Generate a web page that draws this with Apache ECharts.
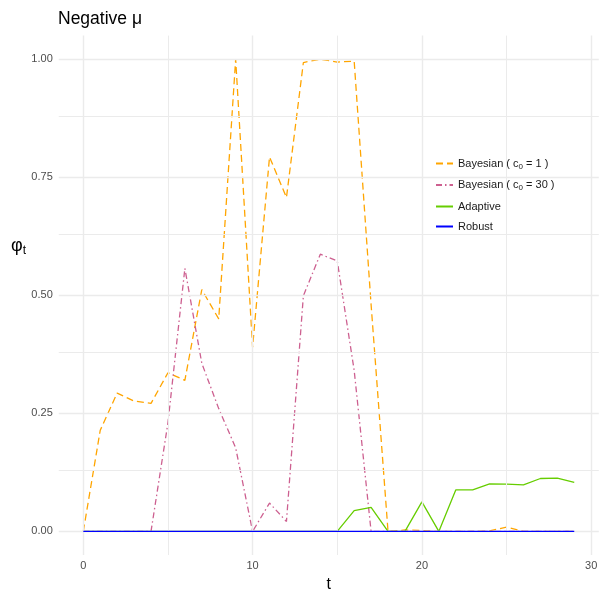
<!DOCTYPE html>
<html>
<head>
<meta charset="utf-8">
<script src="https://cdn.jsdelivr.net/npm/echarts@6/dist/echarts.min.js"></script>
<style>html,body{margin:0;padding:0;background:#fff;}#c{width:604px;height:598px;}</style>
</head>
<body>
<div id="c"></div>
<script>
var tValues = [0,1,2,3,4,5,6,7,8,9,10,11,12,13,14,15,16,17,18,19,20,21,22,23,24,25,26,27,28,29];
var bayes1 = [0,0.214,0.293,0.276,0.271,0.336,0.32,0.512,0.45,1.0,0.39,0.793,0.707,0.993,1.0,0.994,0.996,0.48,0,0.003,0.002,0,0,0,0.001,0.009,0,0,0,0];
var bayes30 = [0,0,0,0,0,0.23,0.557,0.356,0.26,0.177,0,0.06,0.021,0.499,0.587,0.573,0.341,0,0,0,0,0,0,0,0,0,0,0,0,0];
var adaptive = [0,0,0,0,0,0,0,0,0,0,0,0,0,0,0,0,0.044,0.051,0,0,0.0625,0,0.0878,0.0878,0.1005,0.1,0.0985,0.112,0.113,0.104];
var robust = [0,0,0,0,0,0,0,0,0,0,0,0,0,0,0,0,0,0,0,0,0,0,0,0,0,0,0,0,0,0];
var seriesNames = ['Bayesian ( c0 = 1 )','Bayesian ( c0 = 30 )','Adaptive','Robust'];
var legendLabels = ['Bayesian ( c{sub|0} = 1 )','Bayesian ( c{sub|0} = 30 )','Adaptive','Robust'];
var xMajor = [0,10,20,30];
var xMinor = [5,15,25];
var yMajor = [0,0.25,0.5,0.75,1];
var yMinor = [0.125,0.375,0.625,0.875];
var yTickLabels = ['0.00','0.25','0.50','0.75','1.00'];

function pairs(arr){ return tValues.map(function(t,i){ return [t, arr[i]]; }); }

var FONT = "'Liberation Sans', Arial, Helvetica, sans-serif";
var chart = echarts.init(document.getElementById('c'), null, {renderer:'canvas'});

var gridLines = [];
xMajor.forEach(function(v){ gridLines.push({xAxis:v, lineStyle:{width:1.4}}); });
xMinor.forEach(function(v){ gridLines.push({xAxis:v, lineStyle:{width:1.0}}); });
yMajor.forEach(function(v){ gridLines.push({yAxis:v, lineStyle:{width:1.4}}); });
yMinor.forEach(function(v){ gridLines.push({yAxis:v, lineStyle:{width:1.0}}); });

var option = {
  animation:false,
  backgroundColor:'#fff',
  textStyle:{fontFamily:FONT},
  title:[
    {text:'Negative μ', left:53, top:5, textStyle:{fontSize:17.5, fontWeight:'normal', color:'#000', fontFamily:FONT}},
    {text:'{m|φ}{s|t}', left:6, top:231, textStyle:{fontWeight:'normal', rich:{
      m:{fontSize:18, color:'#000', fontFamily:FONT, fontWeight:'normal'},
      s:{fontSize:12, color:'#000', fontFamily:FONT, fontWeight:'normal', padding:[9,0,0,0]}
    }}}
  ],
  grid:{left:58.75, right:5.2, top:35.6, bottom:40.5, containLabel:false},
  legend:{
    orient:'vertical', left:430, top:153, itemGap:9, itemWidth:17, itemHeight:12,
    data:seriesNames,
    itemStyle:{opacity:0, borderWidth:0},
    textStyle:{fontSize:11, color:'#1a1a1a', fontFamily:FONT,
      rich:{sub:{fontSize:8, color:'#1a1a1a', fontFamily:FONT, padding:[6,0,0,0]}}},
    formatter:function(name){ return legendLabels[seriesNames.indexOf(name)]; }
  },
  xAxis:{
    type:'value', min:-1.45, max:30.45,
    name:'t', nameLocation:'middle', nameGap:22,
    nameTextStyle:{fontSize:16, color:'#000', verticalAlign:'top', fontFamily:FONT},
    axisLine:{show:false}, axisTick:{show:false}, splitLine:{show:false},
    axisLabel:{customValues:xMajor, fontSize:11, color:'#4d4d4d', margin:5, fontFamily:FONT}
  },
  yAxis:{
    type:'value', min:-0.05, max:1.05,
    axisLine:{show:false}, axisTick:{show:false}, splitLine:{show:false},
    axisLabel:{customValues:yMajor, fontSize:11, color:'#4d4d4d', margin:6, fontFamily:FONT,
      formatter:function(v){ var i = yMajor.indexOf(v); return i>=0 ? yTickLabels[i] : ''; }}
  },
  series:[
    {type:'line', name:'_grid', data:[], z:0, silent:true,
      markLine:{silent:true, symbol:['none','none'], label:{show:false}, animation:false,
        lineStyle:{color:'#ebebeb', type:'solid'}, emphasis:{disabled:true}, data:gridLines}},
    {type:'line', name:seriesNames[0], data:pairs(bayes1), showSymbol:false, symbol:'none', z:2,
      lineStyle:{color:'#FFA500', width:1.3, type:[7,4]}, itemStyle:{color:'#FFA500'}},
    {type:'line', name:seriesNames[1], data:pairs(bayes30), showSymbol:false, symbol:'none', z:3,
      lineStyle:{color:'#CD6090', width:1.3, type:[6,3,1.5,3]}, itemStyle:{color:'#CD6090'}},
    {type:'line', name:seriesNames[2], data:pairs(adaptive), showSymbol:false, symbol:'none', z:4,
      lineStyle:{color:'#66CD00', width:1.3, type:'solid'}, itemStyle:{color:'#66CD00'}},
    {type:'line', name:seriesNames[3], data:pairs(robust), showSymbol:false, symbol:'none', z:5,
      lineStyle:{color:'#0000FF', width:1.3, type:'solid'}, itemStyle:{color:'#0000FF'}}
  ]
};
chart.setOption(option);
</script>
</body>
</html>
